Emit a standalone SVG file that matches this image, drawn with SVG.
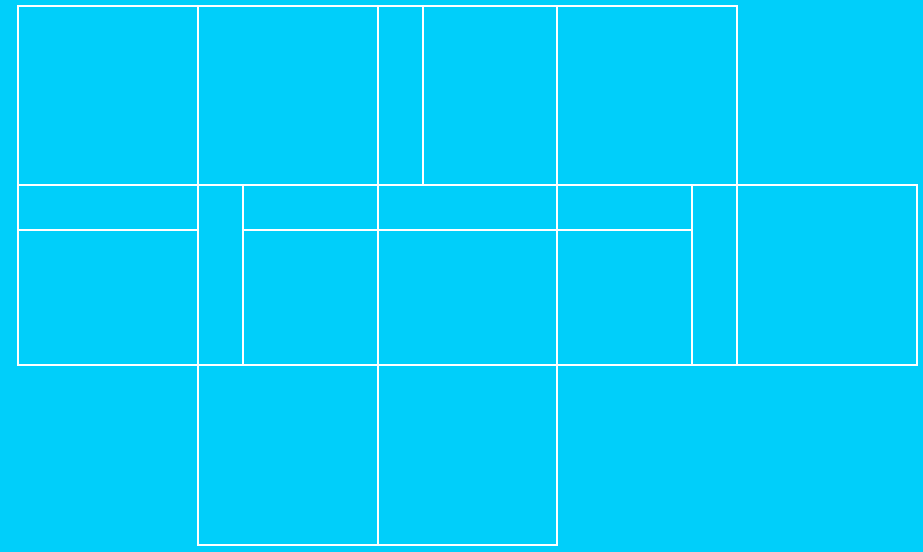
<svg xmlns="http://www.w3.org/2000/svg" width="923" height="552" viewBox="0 0 923 552">
<style>
.c{fill:none;stroke:#ffffff;stroke-width:2}
</style>
<rect x="0" y="0" width="923" height="552" fill="#00cffa"/>
<g id="r1"><rect class="c" x="18" y="6" width="180" height="179"/></g>
<g id="r2"><rect class="c" x="198" y="6" width="180" height="179"/></g>
<g id="r3"><rect class="c" x="378" y="6" width="45" height="179"/></g>
<g id="r4"><rect class="c" x="423" y="6" width="134" height="179"/></g>
<g id="r5"><rect class="c" x="557" y="6" width="180" height="179"/></g>
<g id="r6"><rect class="c" x="18" y="185" width="180" height="45"/></g>
<g id="r7"><rect class="c" x="18" y="230" width="180" height="135"/></g>
<g id="r8"><rect class="c" x="198" y="185" width="45" height="180"/></g>
<g id="r9"><rect class="c" x="243" y="185" width="135" height="45"/></g>
<g id="r10"><rect class="c" x="243" y="230" width="135" height="135"/></g>
<g id="r11"><rect class="c" x="378" y="185" width="179" height="45"/></g>
<g id="r12"><rect class="c" x="378" y="230" width="179" height="135"/></g>
<g id="r13"><rect class="c" x="557" y="185" width="135" height="45"/></g>
<g id="r14"><rect class="c" x="557" y="230" width="135" height="135"/></g>
<g id="r15"><rect class="c" x="692" y="185" width="45" height="180"/></g>
<g id="r16"><rect class="c" x="737" y="185" width="180" height="180"/></g>
<g id="r17"><rect class="c" x="198" y="365" width="180" height="180"/></g>
<g id="r18"><rect class="c" x="378" y="365" width="179" height="180"/></g>
<g id="connectors"></g>
</svg>
